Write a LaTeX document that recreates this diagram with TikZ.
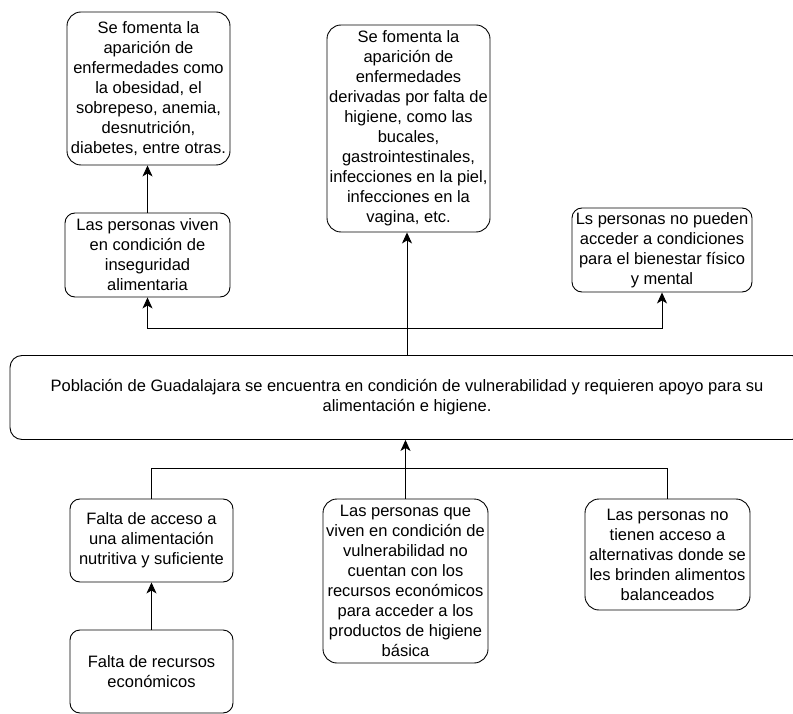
\documentclass[tikz,border=0pt]{standalone}
\usepackage{fontspec}
\setmainfont{Liberation Sans}
\usetikzlibrary{arrows.meta}
\tikzset{
  caja/.style={draw, line width=0.9pt, rounded corners=10pt, align=center,
    inner xsep=0.5pt, inner ysep=1pt, font=\fontsize{16.5}{20}\selectfont},
  flecha/.style={line width=0.9pt, -{Stealth[length=11pt,width=10pt,inset=3pt]}},
  rama/.style={line width=0.9pt}
}
\begin{document}
\begin{tikzpicture}[x=1pt,y=-1pt]
        \useasboundingbox (0,0) rectangle (793,714);
        % the effects on top
        \node[caja, minimum width=163pt, minimum height=153pt, rounded corners=14pt] (efecto1) at (148.5,88.5)
            {Se fomenta la\\aparición de\\enfermedades como\\la obesidad, el\\sobrepeso, anemia,\\desnutrición,\\diabetes, entre otras.};
        \node[caja, minimum width=165pt, minimum height=84pt] (inseguridad) at (147.5,255)
            {Las personas viven\\en condición de\\inseguridad\\alimentaria};
        \node[caja, minimum width=163pt, minimum height=207pt, rounded corners=14pt] (efecto2) at (408.5,128.5)
            {Se fomenta la\\aparición de\\enfermedades\\derivadas por falta de\\higiene, como las\\bucales,\\gastrointestinales,\\infecciones en la piel,\\infecciones en la\\vagina, etc.};
        \node[caja, minimum width=180pt, minimum height=84pt] (bienestar) at (662,250)
            {Ls personas no pueden\\acceder a condiciones\\para el bienestar físico\\y mental};
        % the central problem
        \node[caja, minimum width=794pt, minimum height=84pt, rounded corners=12pt] (problema) at (407,397.5)
            {Población de Guadalajara se encuentra en condición de vulnerabilidad y requieren apoyo para su\\alimentación e higiene.};
        % the causes below
        \node[caja, minimum width=163pt, minimum height=83pt] (acceso) at (151.5,540.5)
            {Falta de acceso a\\una alimentación\\nutritiva y suficiente};
        \node[caja, minimum width=163pt, minimum height=83pt] (recursos) at (151.5,671.5)
            {Falta de recursos\\económicos};
        \node[caja, minimum width=165pt, minimum height=164pt, rounded corners=14pt] (higiene) at (405.5,581)
            {Las personas que\\viven en condición de\\vulnerabilidad no\\cuentan con los\\recursos económicos\\para acceder a los\\productos de higiene\\básica};
        \node[caja, minimum width=165pt, minimum height=111pt, rounded corners=14pt] (alternativas) at (667.5,554.5)
            {Las personas no\\tienen acceso a\\alternativas donde se\\les brinden alimentos\\balanceados};

        % branch points
        \coordinate (arriba) at (405,328);
        \coordinate (abajo) at (405,468);

        % arrows up to the effects
        \draw[flecha] (problema.north) -- (problema.north |- efecto2.south);
        \draw[flecha] (arriba) -| (inseguridad.south);
        \draw[flecha] (arriba) -| (bienestar.south);
        \draw[flecha] (inseguridad.north) -- (inseguridad.north |- efecto1.south);

        % arrows up from the causes
        \draw[flecha] (higiene.north) -- (higiene.north |- problema.south);
        \draw[rama] (abajo) -| (acceso.north);
        \draw[rama] (abajo) -| (alternativas.north);
        \draw[flecha] (recursos.north) -- (acceso.south);
\end{tikzpicture}
\end{document}
